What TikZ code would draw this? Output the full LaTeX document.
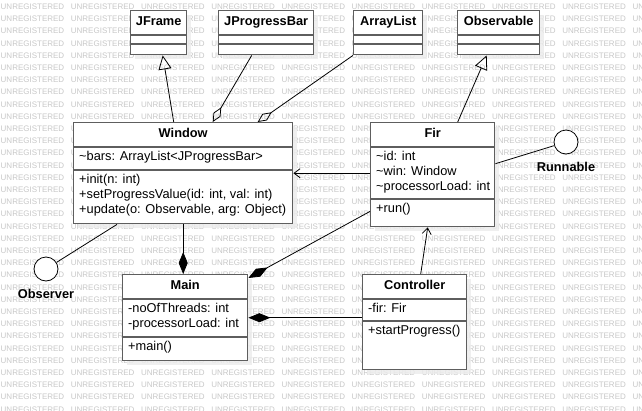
\documentclass[tikz,border=0pt]{standalone}
\usepackage{fontspec}
\setmainfont{Liberation Sans}
\usetikzlibrary{arrows.meta,positioning,shadows}
\definecolor{UmlEdge}{HTML}{5E5E5E}
\definecolor{UmlMark}{HTML}{C8C8C8}
\definecolor{UmlShade}{HTML}{ECECEC}

\begin{document}
\begin{tikzpicture}[
  x=1pt,y=-1pt,
  cls/.style={draw=UmlEdge,line width=1.4pt,fill=white,anchor=north west,inner sep=0pt,
    drop shadow={shadow xshift=4pt,shadow yshift=-4pt,fill=UmlShade,opacity=0.8}},
  title/.style={inner sep=0pt,text height=9pt,text depth=2.5pt,font=\fontsize{12.8}{14.7}\selectfont\bfseries},
  members/.style={anchor=north west,align=left,inner xsep=6pt,inner ysep=3.5pt,font=\fontsize{12.8}{14.7}\selectfont},
  split/.style={draw=UmlEdge,line width=1.4pt},
  iface/.style={circle,draw,line width=0.8pt,fill=white,minimum size=24pt,inner sep=0pt},
  ilabel/.style={inner sep=0pt,font=\fontsize{12.8}{14.7}\selectfont\bfseries},
  wmark/.style={anchor=west,inner sep=0pt,text=UmlMark,font=\fontsize{8}{9}\selectfont},
  link/.style={draw,line width=0.8pt},
  inherit/.style={link,-{Triangle[open,length=14pt,width=13pt]}},
  aggr/.style={link,-{Diamond[open,length=17pt,width=8pt]}},
  comp/.style={link,-{Diamond[length=22pt,width=9pt]}},
  assoc/.style={link,-{Straight Barb[length=6pt,width=9pt]}}
]
  \path[use as bounding box,fill=white] (0,0) rectangle (642,410);
  % watermark
  \begin{scope}
    \clip (0,0) rectangle (642,410);
    \foreach \r in {0,...,33}
      \foreach \c in {0,...,9}
        \node[wmark] (wm-\r-\c) at (0.5+70.2*\c,6.7+12.2*\r) {UNREGISTERED};
  \end{scope}
  % classes
  \node[cls,minimum width=56pt,minimum height=44pt] (jframe) at (130,10) {};
  \node[cls,minimum width=95pt,minimum height=44pt] (jpbar) at (218,10) {};
  \node[cls,minimum width=69pt,minimum height=44pt] (alist) at (353,10) {};
  \node[cls,minimum width=82pt,minimum height=44pt] (obsv) at (457,10) {};
  \node[cls,minimum width=219pt,minimum height=101pt] (win) at (73,122) {};
  \node[cls,minimum width=124pt,minimum height=104pt] (fir) at (370,122) {};
  \node[cls,minimum width=125pt,minimum height=86pt] (main) at (122,274) {};
  \node[cls,minimum width=104pt,minimum height=95pt] (ctrl) at (362,274) {};
  \foreach \n/\a/\b in {jframe/25/34,jpbar/25/34,alist/25/34,obsv/25/34,win/25/48,fir/25/77,main/25/63,ctrl/25/47}
    \draw[split] ([yshift=-\a pt]\n.north west) -- ([yshift=-\a pt]\n.north east)
                 ([yshift=-\b pt]\n.north west) -- ([yshift=-\b pt]\n.north east);
  \node[title] (jframename) at ([yshift=-12.5pt]jframe.north) {JFrame};
  \node[title] (jpbarname) at ([yshift=-12.5pt]jpbar.north) {JProgressBar};
  \node[title] (alistname) at ([yshift=-12.5pt]alist.north) {ArrayList};
  \node[title] (obsvname) at ([yshift=-12.5pt]obsv.north) {Observable};
  \node[title] (winname) at ([yshift=-12.5pt]win.north) {Window};
  \node[members] (winattr) at ([yshift=-25pt]win.north west) {\strut\textasciitilde bars: ArrayList<JProgressBar>};
  \node[members] (winops) at ([yshift=-48pt]win.north west) {\strut+init(n: int)\\+setProgressValue(id: int, val: int)\\+update(o: Observable, arg: Object)};
  \node[title] (firname) at ([yshift=-12.5pt]fir.north) {Fir};
  \node[members] (firattr) at ([yshift=-25pt]fir.north west) {\strut\textasciitilde id: int\\\textasciitilde win: Window\\\textasciitilde processorLoad: int};
  \node[members] (firops) at ([yshift=-77pt]fir.north west) {\strut+run()};
  \node[title] (mainname) at ([yshift=-12.5pt]main.north) {Main};
  \node[members] (mainattr) at ([yshift=-25pt]main.north west) {\strut-noOfThreads: int\\-processorLoad: int};
  \node[members] (mainops) at ([yshift=-63pt]main.north west) {\strut+main()};
  \node[title] (ctrlname) at ([yshift=-12.5pt]ctrl.north) {Controller};
  \node[members] (ctrlattr) at ([yshift=-25pt]ctrl.north west) {\strut-fir: Fir};
  \node[members] (ctrlops) at ([yshift=-47pt]ctrl.north west) {\strut+startProgress()};
  % interfaces
  \node[iface] (runnable) at (566,142) {};
  \node[ilabel,below=8pt of runnable] (runnablename) {Runnable};
  \node[iface] (observer) at (46,269) {};
  \node[ilabel,below=8pt of observer] (observername) {Observer};
  % relations
  \draw[inherit] ([xshift=-9.5pt]win.north) -- ([xshift=4pt]jframe.south);
  \draw[aggr] ([xshift=-14.5pt]jpbar.south) -- ([xshift=29.5pt]win.north);
  \draw[aggr] (alist.south west) -- ([xshift=74.5pt]win.north);
  \draw[inherit] ([xshift=25pt]fir.north) -- ([xshift=-12pt]obsv.south);
  \draw[assoc] (fir.west |- win.east) -- (win.east);
  \draw[link] ([yshift=11pt]fir.east) -- (runnable);
  \draw[link] (observer) -- ([xshift=44pt]win.south west);
  \draw[comp] (win.south) -- (win.south |- main.north);
  \draw[comp] ([yshift=16pt]fir.south west) -- ([yshift=-4pt]main.north east);
  \draw[comp] (main.east -| ctrl.west) -- (main.east);
  \draw[assoc] ([xshift=6pt]ctrl.north) -- ([xshift=-5pt]fir.south);
\end{tikzpicture}
\end{document}
